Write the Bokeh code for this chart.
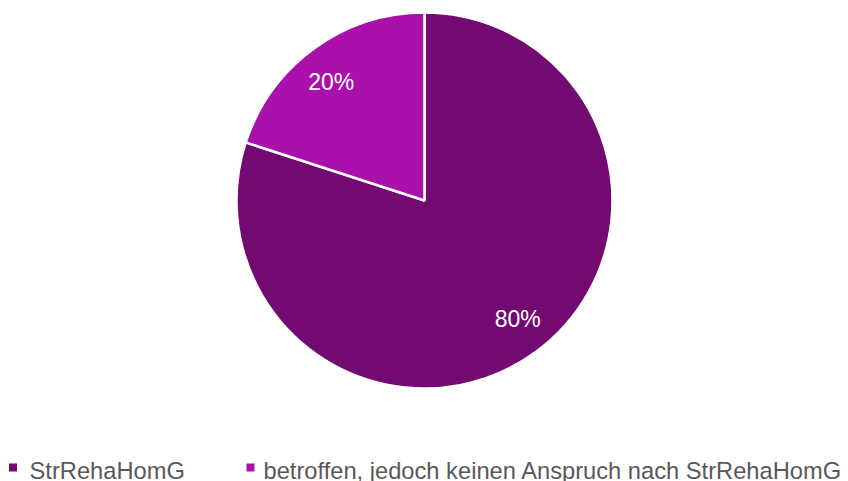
import numpy as np
from bokeh.plotting import figure
from bokeh.models import Range1d, ColumnDataSource
from bokeh.embed import file_html
from bokeh.resources import INLINE
from bokeh.core.properties import value

categories = ["StrRehaHomG", "betroffen, jedoch keinen Anspruch nach StrRehaHomG"]
shares = [80, 20]
labels = ["80%", "20%"]
colors = ["#720A72", "#AA10AA"]

W, H = 848, 481
p = figure(width=W, height=H, x_range=Range1d(0, W), y_range=Range1d(0, H),
           output_backend="svg", toolbar_location=None, min_border=0)
p.axis.visible = False
p.grid.visible = False
p.outline_line_color = None
p.background_fill_color = "white"
p.border_fill_color = "white"

cx, cy, R = 424, 281, 188
frac = np.array(shares, dtype=float) / sum(shares)
cum = np.concatenate([[0.0], np.cumsum(frac)])
start = np.pi / 2 - cum[:-1] * 2 * np.pi
end = np.pi / 2 - cum[1:] * 2 * np.pi
mid = (start + end) / 2 + 0.04

src = ColumnDataSource(dict(start=start, end=end, color=colors))
p.wedge(x=cx, y=cy, radius=R, start_angle="start", end_angle="end",
        direction="clock", fill_color="color", line_color="white",
        line_width=2.5, source=src)

lr = 0.8 * R
lsrc = ColumnDataSource(dict(x=cx + lr * np.cos(mid), y=cy + lr * np.sin(mid), t=labels))
p.text(x="x", y="y", text="t", source=lsrc, text_color="white",
       text_font=value("Liberation Sans"), text_font_size="23px",
       text_align="center", text_baseline="middle")

# legend
sq_x = [12.5, 250]
tx_x = [29, 263]
p.scatter(x=sq_x, y=[14] * 2, marker="square", size=8, fill_color=colors, line_color=None)
p.text(x=tx_x, y=[11] * 2, text=categories, text_color="#595959",
       text_font=value("Liberation Sans"), text_font_size="23.7px",
       text_align="left", text_baseline="middle")

open("out.html", "w").write(file_html(p, INLINE))
